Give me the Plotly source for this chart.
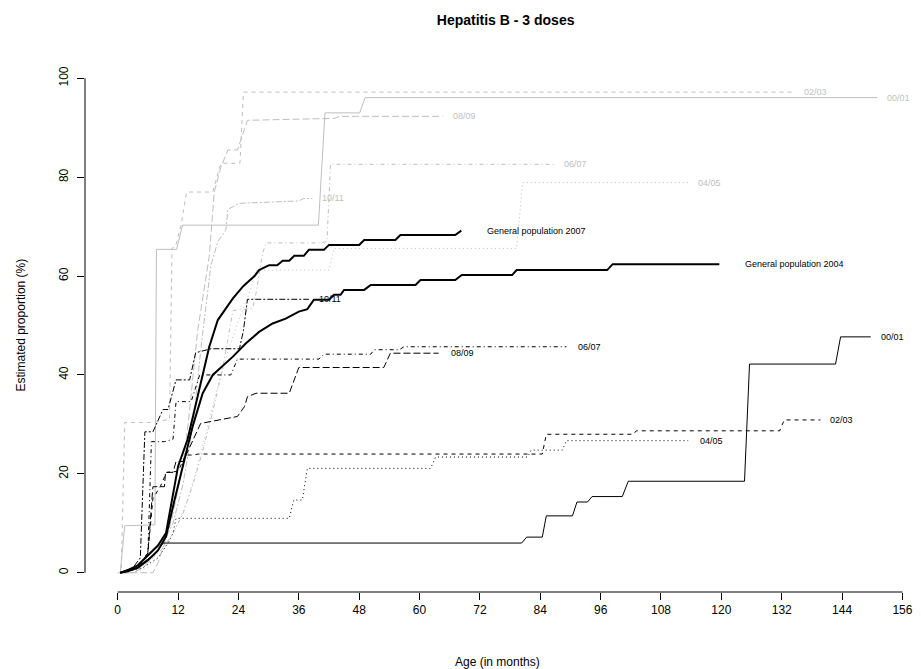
import plotly.graph_objects as go

# ---------------- data (months, percent) ----------------
# black series
b00_m = [0.5, 3, 5, 7, 8, 9, 80.3, 81.3, 84.4, 85.2, 90.4, 91.3, 93.4, 94.3, 100.3, 101.5, 124.6, 125.6, 142.7, 143.7, 149.7]
b00_p = [0, 1, 2, 3.5, 4.5, 6, 6, 7.2, 7.2, 11.5, 11.5, 14.3, 14.3, 15.4, 15.4, 18.5, 18.5, 42.2, 42.2, 47.7, 47.7]
b02_m = [0.5, 4, 6, 7, 8.5, 9.7, 12, 13.5, 15, 16, 84.4, 85.2, 102.5, 103.1, 131.6, 132.5, 139.7]
b02_p = [0, 1, 4, 15, 17.5, 20.3, 20.5, 23.8, 23.8, 24, 24, 28, 28, 28.7, 28.7, 30.9, 30.9]
b04_m = [0.5, 5, 8, 10, 11, 11.6, 34.1, 35, 36.7, 37.7, 62.2, 63.2, 81.5, 82.2, 88.4, 89.2, 113.4]
b04_p = [0, 1, 3, 6, 8, 11, 11, 14.7, 14.7, 21.1, 21.1, 23.4, 23.4, 24.8, 24.8, 26.7, 26.7]
b06_m = [0.5, 4, 6, 6.7, 9.3, 11, 11.6, 14.6, 16.3, 22.5, 23.8, 40, 41, 50.3, 51, 56, 56.9, 89.2]
b06_p = [0, 1, 4, 26.5, 26.5, 27, 34.6, 34.6, 40, 40, 43.2, 43.2, 44.2, 44.2, 45.1, 45.1, 45.7, 45.7]
b08_m = [0.5, 4, 6, 7, 9.3, 9.5, 11, 11.6, 13, 15.5, 16.5, 18.6, 22.9, 23.8, 25.2, 25.8, 27.5, 34.1, 36, 52.9, 54.2, 63.8]
b08_p = [0, 1, 4, 17.4, 17.4, 20.3, 20.3, 22.5, 22.5, 28, 30.2, 30.6, 31.3, 31.6, 33.6, 35.6, 36.3, 36.3, 41.5, 41.5, 44.4, 44.4]
b10_m = [0.5, 3, 4.5, 5.4, 7, 9, 10, 11.6, 14.3, 15.5, 18.6, 24.2, 25, 25.8, 38]
b10_p = [0, 1, 3, 28.5, 28.5, 33, 33, 39, 39, 44.5, 45.3, 45.3, 49, 55.3, 55.3]
gp07_m = [0.5, 2, 4, 6, 8, 9.6, 11, 12, 13.9, 16.3, 18.2, 19.9, 22.9, 25, 27.2, 28.1, 30.1, 31.7, 32.8, 34.1, 35.1, 37, 38, 41, 42, 48, 49, 55.2, 56.2, 67.1, 68.3]
gp07_p = [0, 0.5, 1.5, 3.5, 5.5, 8, 16, 21.5, 27, 37.6, 45.7, 51.1, 55.5, 58, 60, 61.2, 62.2, 62.2, 63.1, 63.1, 64.1, 64.1, 65.3, 65.3, 66.3, 66.3, 67.3, 67.3, 68.3, 68.3, 69.2]
gp04_m = [0.5, 2, 4, 6, 8, 9.6, 11.3, 13, 14.9, 16.9, 18.9, 22.9, 25.5, 28.1, 30.8, 33.4, 36, 37.7, 38.3, 39, 42, 43, 44.3, 45, 49, 50.3, 59.2, 60.2, 67.1, 68.4, 78.4, 79.3, 97.3, 98.4, 119.6]
gp04_p = [0, 0.3, 1, 2.5, 4.5, 7.3, 14.7, 21.5, 29.6, 36.3, 40, 43.7, 46.4, 48.7, 50.4, 51.4, 52.8, 53.3, 54.1, 55.2, 55.2, 56.2, 56.2, 57.2, 57.2, 58.2, 58.2, 59.2, 59.2, 60.2, 60.2, 61.2, 61.2, 62.4, 62.4]
# gray series
g00_m = [0.5, 1.4, 7.4, 7.7, 11.7, 12.9, 39.9, 41.2, 48.1, 49.2, 151]
g00_p = [0, 9.5, 9.7, 65.4, 65.4, 70.3, 70.3, 93, 93, 96.1, 96.1]
g02_m = [0, 0.7, 1.4, 6.5, 10.3, 10.8, 11.5, 12.6, 13.7, 18.9, 20.5, 24.3, 25, 134.4]
g02_p = [0, 0, 30.4, 30.4, 31, 65.6, 66, 70.3, 77, 77, 82.8, 82.8, 97.2, 97.2]
g04_m = [0.5, 3, 6, 8, 10, 12, 14, 16, 18, 20, 22, 24, 25.8, 26.8, 27.5, 42, 43, 79.3, 80.5, 113.4]
g04_p = [0, 0, 1, 3, 6, 10, 15, 22, 30, 38, 45, 51, 55.5, 58.5, 61.2, 61.2, 65.6, 65.6, 78.9, 78.9]
g06_m = [0.5, 3, 5, 7, 9, 11, 13, 15, 17, 19, 21, 22.9, 26.8, 27.5, 28.8, 29.5, 40.4, 41.6, 42.3, 86.8]
g06_p = [0, 0, 1, 3, 5, 8, 12, 18, 25, 33, 42, 53, 53.5, 56.5, 64.6, 66.7, 66.7, 67, 82.6, 82.6]
g08_m = [0.5, 7, 8, 9, 10, 11, 12, 13, 14, 15, 15.9, 18.2, 19.2, 20.5, 21.9, 23.8, 25.8, 43.2, 44, 64.6]
g08_p = [0, 0, 2, 5, 8, 12, 17, 22, 30, 40, 49, 64, 77, 82, 85.5, 85.5, 91.5, 91.9, 92.3, 92.3]
g10_m = [0.5, 3, 5, 7, 9, 11, 13, 15, 16.5, 17.6, 18.5, 19.9, 21.5, 21.9, 24.2, 36, 37, 38.7]
g10_p = [0, 0, 1, 3, 6, 10, 18, 30, 45, 55, 62, 67, 69.3, 73.5, 74.7, 75.2, 75.7, 75.7]

x_ticks = [0, 12, 24, 36, 48, 60, 72, 84, 96, 108, 120, 132, 144, 156]
y_ticks = [0, 20, 40, 60, 80, 100]

GRAY = "#BEBEBE"
LTY = {
    "00/01": "solid",
    "02/03": "4px,4px",
    "04/05": "1px,3px",
    "06/07": "1px,3px,4px,3px",
    "08/09": "7px,3px",
    "10/11": "2px,2px,6px,2px",
}

series = [
    ("00/01", g00_m, g00_p, GRAY, 1, 8),
    ("02/03", g02_m, g02_p, GRAY, 1, 8),
    ("04/05", g04_m, g04_p, GRAY, 1, 8),
    ("06/07", g06_m, g06_p, GRAY, 1, 8),
    ("08/09", g08_m, g08_p, GRAY, 1, 8),
    ("10/11", g10_m, g10_p, GRAY, 1, 8),
    ("00/01", b00_m, b00_p, "black", 1, 8),
    ("02/03", b02_m, b02_p, "black", 1, 8),
    ("04/05", b04_m, b04_p, "black", 1, 10),
    ("06/07", b06_m, b06_p, "black", 1, 10),
    ("08/09", b08_m, b08_p, "black", 1, 10),
    ("10/11", b10_m, b10_p, "black", 1, 8),
]

FONT = "Liberation Sans, Arial, sans-serif"
fig = go.Figure()
annotations = []
for name, m, p, col, w, off in series:
    fig.add_trace(go.Scatter(x=m, y=p, mode="lines", line=dict(color=col, width=w, dash=LTY[name]),
                             hoverinfo="skip", showlegend=False))
    annotations.append(dict(x=m[-1], y=p[-1], xref="x", yref="y", text=name, showarrow=False,
                            xanchor="left", yanchor="middle", xshift=off,
                            font=dict(size=9, color=col, family=FONT)))

for name, m, p in [("General population 2007", gp07_m, gp07_p), ("General population 2004", gp04_m, gp04_p)]:
    fig.add_trace(go.Scatter(x=m, y=p, mode="lines", line=dict(color="black", width=2),
                             hoverinfo="skip", showlegend=False))
    annotations.append(dict(x=m[-1], y=p[-1], xref="x", yref="y", text=name, showarrow=False,
                            xanchor="left", yanchor="middle", xshift=24,
                            font=dict(size=9, color="black", family=FONT)))

annotations.append(dict(x=0.5, y=0, xref="paper", yref="paper", text="Age (in months)", showarrow=False,
                        yanchor="middle", yshift=-70, font=dict(size=12, family=FONT, color="black")))
annotations.append(dict(x=0, y=0.5, xref="paper", yref="paper", text="Estimated proportion (%)", showarrow=False,
                        xanchor="center", xshift=-65, textangle=-90, font=dict(size=12, family=FONT, color="black")))

shapes = [
    dict(type="line", xref="x", yref="paper", x0=x_ticks[0], x1=x_ticks[-1], y0=0, y1=0,
         line=dict(color="black", width=1)),
    dict(type="line", xref="paper", yref="y", x0=0, x1=0, y0=y_ticks[0], y1=y_ticks[-1],
         line=dict(color="black", width=1)),
]

fig.update_layout(
    width=921, height=669,
    margin=dict(l=85, r=8, t=59, b=77),
    paper_bgcolor="white", plot_bgcolor="white",
    title=dict(text="<b>Hepatitis B - 3 doses</b>", x=0.549, xanchor="center", y=1 - 20 / 669,
               yanchor="middle", yref="container", font=dict(size=14, family=FONT, color="black")),
    xaxis=dict(range=[-6.5, 157.5], tickvals=x_ticks, ticktext=[str(v) for v in x_ticks],
               showgrid=False, zeroline=False, showline=False, ticks="outside", ticklen=7,
               tickcolor="black", tickwidth=1, tickfont=dict(size=12, family=FONT, color="black")),
    yaxis=dict(range=[-3.9, 103.9], tickvals=y_ticks, ticktext=[str(v) for v in y_ticks],
               showgrid=False, zeroline=False, showline=False, ticks="outside", ticklen=7,
               tickcolor="black", tickwidth=1, tickangle=-90, ticklabelstandoff=4,
               tickfont=dict(size=12, family=FONT, color="black")),
    annotations=annotations,
    shapes=shapes,
)

fig.write_html("out.html", config={"displayModeBar": False},
               post_script="document.body.style.margin='0px';document.body.style.overflow='hidden';")
